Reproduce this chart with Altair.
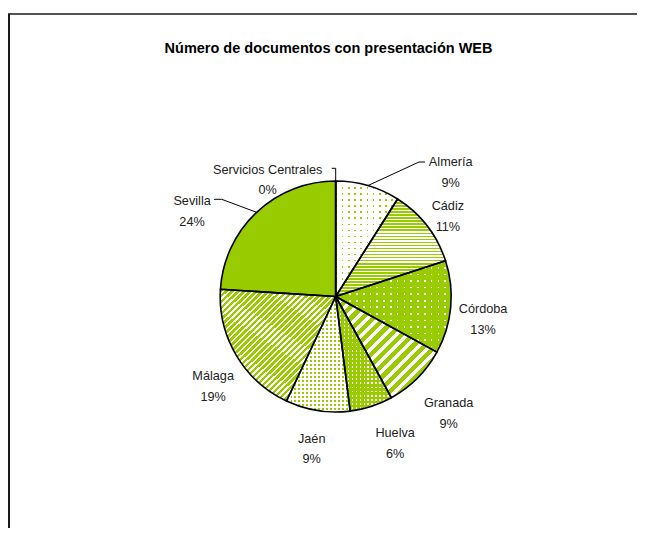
import math
import altair as alt
import pandas as pd

# ---------------- data ----------------
regions = ["Almería", "Cádiz", "Córdoba", "Granada", "Huelva", "Jaén",
           "Málaga", "Sevilla", "Servicios Centrales"]
percent = [9, 11, 13, 9, 6, 9, 19, 24, 0]
title_text = "Número de documentos con presentación WEB"

df = pd.DataFrame({
    "region": regions,
    "pct": percent,
    "order": list(range(len(regions))),
    "label": [f"{r}\n{p}%" for r, p in zip(regions, percent)],
})

# ---------------- style ----------------
GREEN = "#99CC00"
WHITE = "#FFFFFF"
CLEAR = "rgba(255,255,255,0)"
CX, CY = 327.7, 288.5          # pie centre inside the plot area
R = 115.5
FONT = "Liberation Sans"
W, H = 629, 520

theta_scale = alt.Scale(domain=[0, 100], range=[0, 2 * math.pi])

base = (
    alt.Chart(df)
    .transform_window(cum="sum(pct)", sort=[alt.SortField("order")], frame=[None, 0])
    .transform_calculate(start="datum.cum - datum.pct", mid="datum.cum - datum.pct / 2")
)


def stripes(c1, c2, n, frac, x1, y1, x2, y2):
    stops = []
    for i in range(n):
        a = i / n
        b = (i + frac) / n
        c = (i + 1) / n
        stops += [
            {"color": c1, "offset": round(a, 5)},
            {"color": c1, "offset": round(b, 5)},
            {"color": c2, "offset": round(b, 5)},
            {"color": c2, "offset": round(c, 5)},
        ]
    return {"gradient": "linear", "x1": x1, "y1": y1, "x2": x2, "y2": y2, "stops": stops}


def horiz(c1, c2, n, frac):
    return stripes(c1, c2, n, frac, 0, 0, 0, 1)


def vert(c1, c2, n, frac):
    return stripes(c1, c2, n, frac, 0, 0, 1, 0)


def arc(name, fill):
    return (
        base.transform_filter(alt.datum.region == name)
        .mark_arc(outerRadius=R, fill=fill, strokeWidth=0)
        .encode(
            theta=alt.Theta("start:Q", scale=theta_scale, stack=None),
            theta2="cum:Q",
            x=alt.value(CX),
            y=alt.value(CY),
        )
    )


layers = []
# Almería: white with sparse green dots
layers += [arc("Almería", GREEN),
           arc("Almería", horiz(CLEAR, WHITE, 19, 0.24)),
           arc("Almería", vert(CLEAR, WHITE, 10, 0.24))]
# Cádiz: thin horizontal stripes
layers += [arc("Cádiz", horiz(GREEN, WHITE, 32, 0.5))]
# Córdoba: green with white dots
layers += [arc("Córdoba", WHITE),
           arc("Córdoba", horiz(CLEAR, GREEN, 14, 0.24)),
           arc("Córdoba", vert(CLEAR, GREEN, 17, 0.24))]
# Granada: wide diagonal stripes
layers += [arc("Granada", stripes(GREEN, WHITE, 18, 0.55, 0, 0, 1, 1))]
# Huelva: green with dense white dots
layers += [arc("Huelva", WHITE),
           arc("Huelva", horiz(CLEAR, GREEN, 28, 0.45)),
           arc("Huelva", vert(CLEAR, GREEN, 14, 0.45))]
# Jaén: white with dense green dots
layers += [arc("Jaén", GREEN),
           arc("Jaén", horiz(CLEAR, WHITE, 29, 0.4)),
           arc("Jaén", vert(CLEAR, WHITE, 16, 0.4))]
# Málaga: narrow diagonal stripes
layers += [arc("Málaga", stripes(GREEN, WHITE, 38, 0.6, 0, 0, 1, 1))]
# Sevilla: solid
layers += [arc("Sevilla", GREEN)]

# outlines
outline = base.mark_arc(
    outerRadius=R, fill=WHITE, fillOpacity=0, stroke="#000000", strokeWidth=1.6, strokeJoin="round"
).encode(
    theta=alt.Theta("start:Q", scale=theta_scale, stack=None),
    theta2="cum:Q",
    x=alt.value(CX),
    y=alt.value(CY),
)
layers.append(outline)

# data labels (offsets imitate the spreadsheet's label placement)
label_offsets = {
    "Almería": (74, 7), "Cádiz": (-4, 0), "Córdoba": (1, -1), "Granada": (9, 3),
    "Huelva": (14, -3), "Jaén": (-1, -3), "Málaga": (4, 5), "Sevilla": (-43, 12),
    "Servicios Centrales": (-68, 20),
}
for name, (dx, dy) in label_offsets.items():
    layers.append(
        base.transform_filter(alt.datum.region == name)
        .mark_text(radius=147, dx=dx, dy=dy, font=FONT, fontSize=12.7, lineBreak="\n",
                   lineHeight=20.5, align="center", baseline="middle", color="#222222")
        .encode(
            theta=alt.Theta("mid:Q", scale=theta_scale, stack=None),
            text="label:N",
            x=alt.value(CX),
            y=alt.value(CY),
        )
    )

# leader lines
leaders = [
    (417, 154, 411, 154), (411, 154, 359.9, 177.6),
    (206, 191.3, 213.7, 191.3), (213.7, 191.3, 248.6, 204.3),
    (323.7, 160.3, 327.7, 160.3), (327.7, 160.3, 327.7, 173),
]
for x1, y1, x2, y2 in leaders:
    layers.append(
        alt.Chart(df).mark_rule(color="#000000", strokeWidth=1).encode(
            x=alt.value(x1), y=alt.value(y1), x2=alt.value(x2), y2=alt.value(y2)
        ).transform_filter(alt.datum.order == 0)
    )

# chart frame (only left and top edges are inside the picture)
layers.append(alt.Chart(df).transform_filter(alt.datum.order == 0).mark_rule(color="#1a1a1a", strokeWidth=1.6).encode(
    x=alt.value(0), x2=alt.value(W + 30), y=alt.value(6), y2=alt.value(6)))
layers.append(alt.Chart(df).transform_filter(alt.datum.order == 0).mark_rule(color="#1a1a1a", strokeWidth=2).encode(
    x=alt.value(1), x2=alt.value(1), y=alt.value(6), y2=alt.value(H + 30)))

# title
layers.append(
    alt.Chart(df).transform_filter(alt.datum.order == 0)
    .mark_text(font=FONT, fontSize=14.5, fontWeight="bold", color="#000000",
               align="center", baseline="alphabetic")
    .encode(x=alt.value(320.5), y=alt.value(45.3), text=alt.value(title_text))
)

chart = (
    alt.layer(*layers)
    .properties(width=W, height=H, padding=0, autosize=alt.AutoSizeParams(type="none"))
    .configure_view(stroke="transparent", strokeWidth=0)
)

chart.save("out.html", embed_options={"renderer": "svg", "actions": False})
